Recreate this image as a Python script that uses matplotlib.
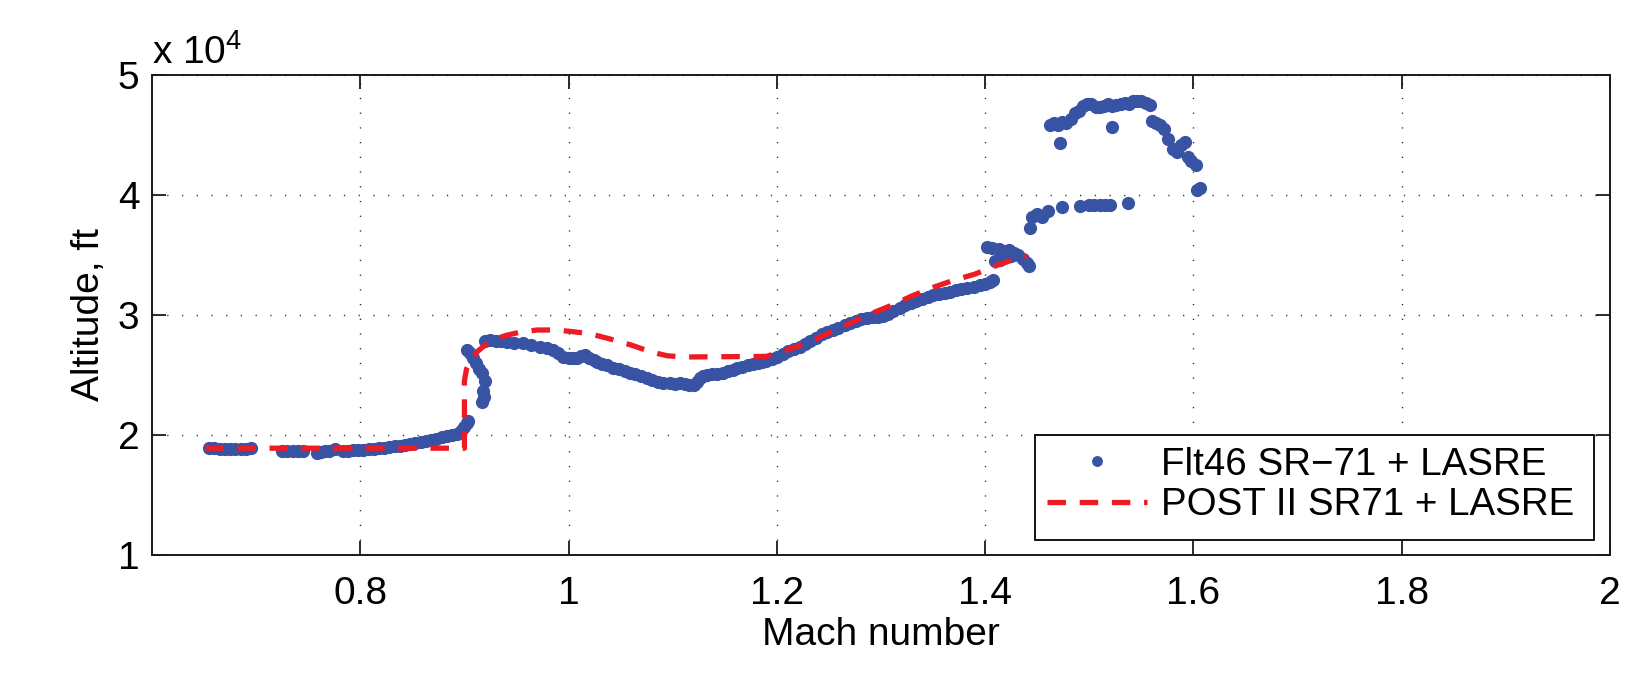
import numpy as np
import matplotlib
matplotlib.use("Agg")
import matplotlib.pyplot as plt
from matplotlib.patches import Rectangle

plt.rcParams['font.family'] = ['Liberation Sans', 'DejaVu Sans']
plt.rcParams['mathtext.fontset'] = 'custom'
plt.rcParams['mathtext.rm'] = 'Liberation Sans'

# Flight 46 measured trajectory: Mach number and altitude (units of 10^4 ft)
mach_flt = [
    0.655, 0.660, 0.665, 0.670, 0.675, 0.680, 0.685, 0.690, 0.695,
    0.725, 0.730, 0.735, 0.740, 0.745,
    0.758, 0.762, 0.766, 0.770, 0.776,
    0.783, 0.788, 0.793, 0.798, 0.803, 0.808, 0.813, 0.818, 0.823, 0.828,
    0.833, 0.838, 0.843, 0.848, 0.853, 0.858, 0.863, 0.868, 0.873, 0.878,
    0.883, 0.888, 0.893, 0.897, 0.900, 0.902, 0.903,
    0.9025, 0.905, 0.908, 0.911, 0.914, 0.917, 0.920, 0.918, 0.919, 0.917,
    0.920, 0.925, 0.930, 0.935, 0.941, 0.948, 0.956, 0.964, 0.973, 0.979,
    0.985, 0.990, 0.995, 1.000, 1.004, 1.008, 1.012, 1.016, 1.020, 1.024,
    1.027, 1.032, 1.037, 1.043, 1.048, 1.054, 1.059, 1.064, 1.070, 1.075,
    1.080, 1.086, 1.091, 1.097, 1.102, 1.107, 1.112, 1.116, 1.120, 1.123,
    1.126, 1.129, 1.133, 1.138, 1.143, 1.148, 1.153, 1.158, 1.162, 1.167,
    1.172, 1.177, 1.182, 1.186, 1.190, 1.195, 1.200, 1.206, 1.211, 1.216,
    1.222, 1.227, 1.232, 1.238, 1.243, 1.248, 1.254, 1.259, 1.265, 1.270,
    1.276, 1.281, 1.287, 1.292, 1.297, 1.302, 1.307, 1.312, 1.318, 1.323,
    1.329, 1.334, 1.339, 1.345, 1.350, 1.356, 1.361, 1.366, 1.372, 1.377,
    1.383, 1.389, 1.395, 1.400, 1.405, 1.408,
    1.402, 1.407, 1.413, 1.418, 1.423, 1.428, 1.432, 1.436, 1.440, 1.442,
    1.409, 1.414, 1.425,
    1.443, 1.445, 1.450, 1.455, 1.460, 1.474, 1.491, 1.500, 1.505, 1.510,
    1.515, 1.520, 1.537,
    1.462, 1.466, 1.470, 1.474, 1.478, 1.472, 1.482, 1.486, 1.490, 1.494,
    1.498, 1.502, 1.506, 1.510, 1.514, 1.518, 1.522, 1.522, 1.526, 1.530,
    1.534, 1.538, 1.542, 1.546, 1.550, 1.554, 1.558, 1.560, 1.564, 1.568,
    1.572, 1.576, 1.580, 1.584, 1.588, 1.592, 1.595, 1.598, 1.602, 1.603,
    1.606,
]
alt_flt = [
    1.89, 1.89, 1.885, 1.88, 1.88, 1.88, 1.88, 1.885, 1.89,
    1.87, 1.865, 1.865, 1.865, 1.87,
    1.85, 1.86, 1.865, 1.87, 1.885,
    1.865, 1.87, 1.875, 1.875, 1.878, 1.88, 1.885, 1.89, 1.895, 1.90,
    1.905, 1.91, 1.915, 1.925, 1.93, 1.94, 1.95, 1.96, 1.97, 1.98,
    1.99, 2.00, 2.01, 2.03, 2.07, 2.10, 2.12,
    2.71, 2.68, 2.64, 2.60, 2.55, 2.52, 2.45, 2.37, 2.32, 2.275,
    2.78, 2.79, 2.785, 2.78, 2.775, 2.77, 2.765, 2.75, 2.735, 2.725,
    2.71, 2.68, 2.65, 2.645, 2.64, 2.645, 2.655, 2.665, 2.645, 2.625,
    2.61, 2.595, 2.58, 2.56, 2.55, 2.535, 2.52, 2.505, 2.49, 2.475,
    2.46, 2.445, 2.43, 2.43, 2.425, 2.43, 2.425, 2.42, 2.42, 2.44,
    2.475, 2.49, 2.50, 2.505, 2.51, 2.515, 2.53, 2.545, 2.56, 2.57,
    2.58, 2.59, 2.60, 2.605, 2.615, 2.635, 2.65, 2.675, 2.70, 2.715,
    2.735, 2.76, 2.785, 2.81, 2.84, 2.86, 2.875, 2.895, 2.915, 2.935,
    2.95, 2.965, 2.975, 2.98, 2.985, 2.99, 3.01, 3.035, 3.06, 3.08,
    3.10, 3.12, 3.135, 3.15, 3.165, 3.175, 3.185, 3.195, 3.205, 3.215,
    3.225, 3.235, 3.25, 3.26, 3.275, 3.29,
    3.57, 3.56, 3.55, 3.53, 3.54, 3.52, 3.50, 3.47, 3.43, 3.41,
    3.45, 3.46, 3.49,
    3.725, 3.82, 3.84, 3.82, 3.87, 3.90, 3.91, 3.92, 3.92, 3.92,
    3.92, 3.92, 3.93,
    4.58, 4.60, 4.58, 4.61, 4.60, 4.43, 4.63, 4.68, 4.70, 4.74,
    4.76, 4.76, 4.73, 4.73, 4.74, 4.76, 4.74, 4.57, 4.75, 4.76,
    4.77, 4.76, 4.78, 4.78, 4.78, 4.77, 4.75, 4.62, 4.60, 4.58,
    4.55, 4.47, 4.38, 4.36, 4.42, 4.44, 4.32, 4.28, 4.25, 4.04,
    4.06,
]

# POST II simulated trajectory (units of 10^4 ft)
mach_sim = [0.651, 0.900, 0.900, 0.902, 0.907, 0.913, 0.920, 0.930, 0.940,
            0.955, 0.970, 0.985, 1.000, 1.020, 1.040, 1.060, 1.080, 1.095,
            1.110, 1.190, 1.210, 1.230, 1.250, 1.270, 1.290, 1.310, 1.330,
            1.350, 1.370, 1.390, 1.410, 1.430, 1.440]
alt_sim = [1.89, 1.89, 2.45, 2.55, 2.63, 2.70, 2.75, 2.80, 2.83,
           2.86, 2.875, 2.875, 2.865, 2.845, 2.80, 2.75, 2.69, 2.66,
           2.65, 2.655, 2.71, 2.77, 2.85, 2.93, 3.01, 3.08, 3.16,
           3.23, 3.29, 3.34, 3.41, 3.47, 3.49]

x_ticks = [0.8, 1.0, 1.2, 1.4, 1.6, 1.8, 2.0]
x_tick_labels = ['0.8', '1', '1.2', '1.4', '1.6', '1.8', '2']
y_ticks = [1, 2, 3, 4, 5]
y_tick_labels = ['1', '2', '3', '4', '5']

BLUE = '#3953A4'
RED = '#ED1C24'
FS = 28

fig = plt.figure(figsize=(16.36, 6.74), dpi=100)
ax = fig.add_axes([152 / 1636, 1 - 555 / 674, 1458 / 1636, 480 / 674])

ax.plot(mach_flt, alt_flt, linestyle='none', marker='o', ms=8.5,
        color=BLUE, mec=BLUE, label='Flt46 SR\u221271 + LASRE', zorder=3)
ax.plot(mach_sim, alt_sim, color=RED, lw=3.8, dashes=(3.5, 2.6),
        label='POST II SR71 + LASRE', zorder=4)

ax.set_xlim(0.6, 2.0)
ax.set_ylim(1, 5)
ax.set_xticks(x_ticks)
ax.set_xticklabels(x_tick_labels)
ax.set_yticks(y_ticks)
ax.set_yticklabels(y_tick_labels)

ax.grid(True, linestyle=(0, (0.9, 9.7)), color='k', lw=1.0, alpha=0.85)
ax.set_axisbelow(True)
for s in ax.spines.values():
    s.set_linewidth(1.4)
    s.set_color('#1a1a1a')
ax.tick_params(direction='in', length=10, width=1.3, top=True, right=True,
               labelsize=FS, color='#1a1a1a')
ax.tick_params(axis='x', pad=15)
ax.tick_params(axis='y', pad=9)

ax.set_xlabel('Mach number', fontsize=FS, labelpad=4)
ax.set_ylabel('Altitude, ft', fontsize=FS, labelpad=8)

fig.text(152 / 1636, 1 - 64 / 674, r'x 10$^{4}$', fontsize=FS,
         ha='left', va='baseline')

# Legend box with extra room on the right, as drawn by the plotting tool
box = Rectangle((0.6056, 0.031), 0.989 - 0.6056, 0.25 - 0.031,
                transform=ax.transAxes, facecolor='white', edgecolor='k',
                lw=1.3, zorder=5)
ax.add_patch(box)
leg = ax.legend(loc='center left', bbox_to_anchor=(0.6139, 0.146),
                borderaxespad=0, fontsize=27.7, numpoints=1, markerscale=0.8,
                frameon=False, handlelength=2.6, handletextpad=0.35,
                labelspacing=0.12, borderpad=0)
leg.set_zorder(6)

fig.savefig('out.png', dpi=100)
